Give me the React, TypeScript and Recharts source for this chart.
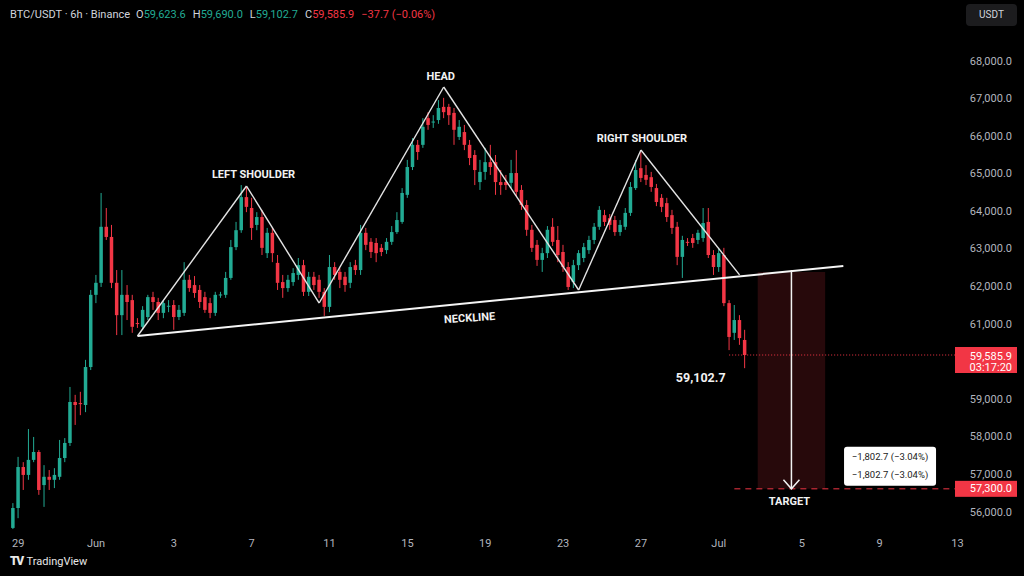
import React from 'react';
import { ComposedChart, Bar, XAxis, YAxis, ReferenceLine, ReferenceArea, ReferenceDot } from 'recharts';

const GREEN = '#22ab94';
const RED = '#f23645';
const AXIS_TEXT = '#b2b5be';
const FONT = "Roboto, 'Liberation Sans', sans-serif";

// 6h candles, values (price-scale positions)
const opens = [
  55580, 56110, 57200, 56990, 57390, 57600, 56720, 56940, 56860, 56940,
  57440, 57840, 58930, 58900, 58850, 59860, 61780, 62100, 63590, 63320,
  62100, 61240, 61780, 61640, 61030, 60930, 61190, 61720, 61590, 61300,
  61480, 61510, 61190, 61300, 62180, 62040, 61910, 61720, 61560, 61300,
  61780, 61780, 62230, 63050, 63500, 64380, 64090, 63640, 63850, 62890,
  63430, 62630, 62120, 61960, 62120, 62310, 62570, 61860, 62260, 62180,
  61860, 61460, 62520, 62390, 62260, 62100, 62570, 62440, 63430, 63190,
  63160, 63030, 62970, 63190, 63450, 63720, 64440, 65180, 65770, 65770,
  66480, 66380, 66430, 66780, 66780, 66620, 65980, 66110, 65770, 65500,
  64780, 65050, 65310, 65310, 64780, 64780, 64760, 65020, 64570, 64170,
  63510, 63110, 62710, 62890, 63590, 63240, 62920, 62520, 62120, 62570,
  62760, 62970, 63240, 63590, 63900, 63820, 63770, 63450, 63590, 63960,
  64620, 65150, 64970, 64910, 64620, 64360, 64220, 63900, 63590, 62790,
  63190, 63290, 63240, 63290, 63720, 62840, 62520, 62840, 61560, 60770,
  61110, 60580,
];
const highs = [
  56240, 57470, 57330, 58210, 58000, 57650, 57250, 57120, 57170, 57920,
  57970, 59330, 59120, 59200, 60050, 61910, 62310, 64490, 64090, 63640,
  62440, 62440, 62040, 61780, 61160, 61480, 61780, 61860, 61700, 61640,
  61640, 61640, 61510, 62650, 62310, 62280, 62040, 61860, 61700, 61860,
  61860, 62390, 63240, 63720, 64700, 64650, 64360, 63980, 64040, 63560,
  63560, 62840, 62310, 62310, 62490, 62760, 62710, 62390, 62390, 62310,
  61960, 62840, 62650, 62490, 62390, 62650, 62710, 63640, 63560, 63290,
  63290, 63130, 63290, 63610, 63980, 64620, 65370, 65950, 65900, 66480,
  66640, 66560, 66960, 67020, 66860, 66750, 66430, 66300, 65900, 65630,
  65370, 65690, 65770, 65500, 65100, 64970, 65370, 65630, 64700, 64300,
  63640, 63240, 63030, 63610, 63820, 63610, 63110, 62650, 62710, 62970,
  63160, 63350, 63690, 64140, 64040, 63930, 63880, 63770, 64090, 64780,
  65370, 65580, 65230, 65050, 64730, 64460, 64360, 64040, 63720, 63350,
  63290, 63400, 63510, 64090, 64090, 62970, 63030, 63030, 61640, 61510,
  61240, 60850,
];
const lows = [
  55550, 55840, 56590, 56860, 57330, 56460, 56140, 56590, 56640, 56860,
  57330, 57760, 58320, 58580, 58660, 59780, 61560, 61990, 63240, 61960,
  60710, 60710, 61110, 60770, 60900, 60850, 61110, 61380, 61110, 61160,
  61320, 60850, 61110, 61220, 61860, 61700, 61430, 61300, 61160, 61220,
  61700, 61700, 62180, 62970, 63430, 63980, 63240, 63500, 62840, 62760,
  62650, 61910, 61700, 61860, 62020, 62180, 61750, 61750, 61910, 61700,
  61220, 61320, 62180, 61960, 61860, 61960, 62310, 62310, 62970, 62760,
  62650, 62810, 62870, 63110, 63400, 63670, 64360, 65100, 65370, 65690,
  66170, 66220, 66330, 66480, 66300, 65770, 65900, 65630, 65230, 64700,
  64570, 64840, 64970, 64440, 64440, 64570, 64620, 64410, 64040, 63350,
  62920, 62550, 62390, 62760, 63080, 62650, 62390, 61910, 61960, 62440,
  62650, 62870, 63130, 63510, 63610, 63510, 63350, 63350, 63510, 63880,
  64570, 64780, 64700, 64520, 64140, 63980, 63720, 63400, 62570, 62230,
  63080, 63030, 63130, 63190, 62760, 62310, 62390, 61480, 60310, 60580,
  60450, 59830,
];
const closes = [
  56110, 57200, 56990, 57390, 57600, 56590, 56940, 56860, 56990, 57440,
  57840, 58930, 58850, 58880, 59860, 61780, 62100, 63590, 63320, 62100,
  61240, 61780, 61590, 60930, 61010, 61380, 61720, 61590, 61300, 61560,
  61490, 61190, 61380, 62180, 61960, 61830, 61590, 61380, 61300, 61780,
  61790, 62230, 63050, 63500, 64380, 64120, 63560, 63850, 63030, 63430,
  62890, 62100, 61960, 62180, 62360, 62570, 61860, 62260, 62040, 61860,
  61460, 62520, 62310, 62180, 62040, 62520, 62440, 63430, 63110, 62920,
  62890, 62920, 63190, 63450, 63770, 64490, 65180, 65770, 65580, 66250,
  66300, 66390, 66750, 66640, 66560, 66170, 66250, 65770, 65420, 65100,
  65050, 65310, 65180, 64780, 64700, 64700, 65020, 64520, 64170, 63510,
  63030, 62710, 62890, 63510, 63190, 62840, 62520, 61990, 62570, 62890,
  63050, 63240, 63590, 64040, 63720, 63640, 63450, 63640, 63960, 64650,
  65100, 64890, 64840, 64650, 64250, 64120, 63850, 63560, 62790, 63240,
  63180, 63160, 63430, 63690, 62840, 62520, 62890, 61560, 60660, 61110,
  60630, 60180,
];

// time axis: slots of the time scale, first candle sits in slot LEAD
const LEAD = 2;
const SLOTS = 195;
const tickSlots = [3, 18, 33, 48, 63, 78, 93, 108, 123, 138, 154, 169, 184];
const tickLabels = ['29', 'Jun', '3', '7', '11', '15', '19', '23', '27', 'Jul', '5', '9', '13'];

// price axis
const priceDomain = [55525, 68825];
const priceTicks = [56000, 57000, 58000, 59000, 61000, 62000, 63000, 64000, 65000, 66000, 67000, 68000];

// head & shoulders drawing
const patternSlots = [26, 47, 61, 85, 111, 123, 142];
const patternPrices = [60685, 64675, 61563, 67309, 61909, 65633, 62310];
const necklineSlots = [26, 162];
const necklinePrices = [60685, 62547];
const patternLabels = ['LEFT SHOULDER', 'HEAD', 'RIGHT SHOULDER'];
const patternLabelVertex = [1, 3, 5];

// projection / target
const targetSlots = [146, 158];
const targetTop = 62390;
const targetLevel = 56620;
const arrowSlot = 152;
const arrowTop = 62440;
const targetBadge = '57,300.0';
const measureText = '\u22121,802.7 (\u22123.04%)';

// last price
const lastPriceLevel = 60180;
const lastPriceText = '59,585.9';
const countdownText = '03:17:20';
const lowText = '59,102.7';

const fmtPrice = (v: number) =>
  v.toLocaleString('en-US', { minimumFractionDigits: 1, maximumFractionDigits: 1 });

const rows = Array.from({ length: SLOTS }, (_, idx) => {
  const i = idx - LEAD;
  const has = i >= 0 && i < closes.length;
  return {
    idx,
    o: has ? opens[i] : null,
    h: has ? highs[i] : null,
    l: has ? lows[i] : null,
    c: has ? closes[i] : null,
    range: has ? [lows[i], highs[i]] : null,
  };
});

const Candle = (p: any) => {
  const { x, y, width, height, payload } = p;
  if (!payload || payload.h == null || x == null || y == null) return null;
  const { o, h, l, c } = payload;
  const top = Math.min(y, y + height);
  const bot = Math.max(y, y + height);
  const k = (bot - top) / (h - l || 1);
  const yOf = (v: number) => top + (h - v) * k;
  const color = c >= o ? GREEN : RED;
  const cx = x + width / 2;
  const bw = Math.max(1, width * 0.7);
  const bTop = yOf(Math.max(o, c));
  const bBot = yOf(Math.min(o, c));
  return (
    <g>
      <line x1={cx} x2={cx} y1={top} y2={bot} stroke={color} strokeWidth={1} />
      <rect x={cx - bw / 2} y={bTop} width={bw} height={Math.max(1, bBot - bTop)} fill={color} />
    </g>
  );
};

const XTick = (p: any) => {
  const { x, y, payload } = p;
  const k = tickSlots.indexOf(payload.value);
  return (
    <text x={x} y={y + 11} textAnchor="middle" dominantBaseline="central" fill={AXIS_TEXT} fontSize={11} fontFamily={FONT}>
      {k >= 0 ? tickLabels[k] : ''}
    </text>
  );
};

const YTick = (p: any) => {
  const { y, payload } = p;
  return (
    <text x={1012} y={y} textAnchor="end" dominantBaseline="central" fill={AXIS_TEXT} fontSize={11} fontFamily={FONT}>
      {fmtPrice(payload.value)}
    </text>
  );
};

const textShape = (label: string, dx: number, dy: number, size: number) => (p: any) => (
  <text x={p.cx + dx} y={p.cy + dy} textAnchor="middle" dominantBaseline="central" fill="#f2f2f2" fontSize={size} fontWeight={700} fontFamily={FONT}>
    {label}
  </text>
);

const necklineLabelShape = (p: any) => (
  <text x={p.cx} y={p.cy + 15} textAnchor="middle" dominantBaseline="central" fill="#f2f2f2" fontSize={11} fontWeight={700} fontFamily={FONT} transform={`rotate(-4 ${p.cx} ${p.cy + 15})`}>
    NECKLINE
  </text>
);

const arrowHead = (p: any) => (
  <path d={`M${p.cx - 8},${p.cy - 9} L${p.cx},${p.cy} L${p.cx + 8},${p.cy - 9}`} stroke="#f2f2f2" strokeWidth={1.5} fill="none" />
);

const lastBadge = (p: any) => (
  <g>
    <rect x={955} y={p.cy - 8} width={62} height={26} fill={RED} />
    <text x={1012} y={p.cy + 1} textAnchor="end" dominantBaseline="central" fill="#fff" fontSize={11} fontFamily={FONT}>{lastPriceText}</text>
    <text x={1012} y={p.cy + 12} textAnchor="end" dominantBaseline="central" fill="#fff" fontSize={11} fontFamily={FONT}>{countdownText}</text>
  </g>
);

const targetBadgeShape = (p: any) => (
  <g>
    <rect x={955} y={p.cy - 8} width={62} height={16} fill={RED} />
    <text x={1012} y={p.cy} textAnchor="end" dominantBaseline="central" fill="#fff" fontSize={11} fontFamily={FONT}>{targetBadge}</text>
  </g>
);

const measureBox = (p: any) => (
  <g>
    <rect x={p.cx - 46} y={p.cy - 42} width={92} height={39} rx={3} fill="#ffffff" />
    <text x={p.cx} y={p.cy - 32} textAnchor="middle" dominantBaseline="central" fill="#222" fontSize={9.5} fontFamily={FONT}>{measureText}</text>
    <text x={p.cx} y={p.cy - 14} textAnchor="middle" dominantBaseline="central" fill="#222" fontSize={9.5} fontFamily={FONT}>{measureText}</text>
  </g>
);

const lastSlot = LEAD + closes.length - 1;

export default function App() {
  const patternSegments = patternSlots.slice(1).map((s, k) => [
    { x: patternSlots[k], y: patternPrices[k] },
    { x: s, y: patternPrices[k + 1] },
  ]);
  const neckMid = 90;
  const neckMidPrice =
    necklinePrices[0] +
    ((necklinePrices[1] - necklinePrices[0]) * (neckMid - necklineSlots[0])) / (necklineSlots[1] - necklineSlots[0]);

  return (
    <div style={{ position: 'fixed', left: 0, top: 0, width: 1024, height: 576, background: '#000', overflow: 'hidden', fontFamily: FONT }}>
      <ComposedChart
        width={1024}
        height={576}
        data={rows}
        margin={{ top: 30, right: 0, bottom: 0, left: 0 }}
        barCategoryGap={0}
        barGap={0}
      >
        <XAxis
          dataKey="idx"
          type="category"
          ticks={tickSlots}
          interval={0}
          height={46}
          axisLine={false}
          tickLine={false}
          tickSize={0}
          tick={<XTick />}
        />
        <YAxis
          type="number"
          orientation="right"
          domain={priceDomain}
          allowDataOverflow
          ticks={priceTicks}
          interval={0}
          axisLine={false}
          tickLine={false}
          tickSize={0}
          width={12}
          tick={<YTick />}
        />
        <ReferenceArea
          x1={targetSlots[0]}
          x2={targetSlots[1]}
          y1={targetLevel}
          y2={targetTop}
          fill={RED}
          fillOpacity={0.16}
          stroke="none"
        />
        <Bar dataKey="range" shape={<Candle />} isAnimationActive={false} />
        <ReferenceLine
          segment={[{ x: lastSlot - 3, y: lastPriceLevel }, { x: SLOTS - 1, y: lastPriceLevel }]}
          stroke={RED}
          strokeWidth={1}
          strokeDasharray="1 2"
        />
        <ReferenceLine
          segment={[{ x: lastSlot - 2, y: targetLevel }, { x: SLOTS - 1, y: targetLevel }]}
          stroke={RED}
          strokeWidth={1}
          strokeDasharray="6 5"
        />
        <ReferenceLine
          segment={[{ x: necklineSlots[0], y: necklinePrices[0] }, { x: necklineSlots[1], y: necklinePrices[1] }]}
          stroke="#f5f5f5"
          strokeWidth={2}
        />
        {patternSegments.map((seg, k) => (
          <ReferenceLine key={`p${k}`} segment={seg} stroke="#e4e4e4" strokeWidth={1.4} />
        ))}
        <ReferenceLine
          segment={[{ x: arrowSlot, y: arrowTop }, { x: arrowSlot, y: targetLevel }]}
          stroke="#f2f2f2"
          strokeWidth={1.5}
        />
        <ReferenceDot x={arrowSlot} y={targetLevel} r={3} shape={arrowHead} />
        {patternLabels.map((lab, k) => {
          const v = patternLabelVertex[k];
          const dx = k === 0 ? 7 : k === 1 ? -3 : 1;
          const dy = k === 1 ? -10 : -12;
          return (
            <ReferenceDot key={lab} x={patternSlots[v]} y={patternPrices[v]} r={3} shape={textShape(lab, dx, dy, 11)} />
          );
        })}
        <ReferenceDot x={neckMid} y={neckMidPrice} r={3} shape={necklineLabelShape} />
        <ReferenceDot x={arrowSlot} y={targetLevel} r={3} shape={textShape('TARGET', -2, 13, 11)} />
        <ReferenceDot x={lastSlot} y={lows[lows.length - 1]} r={3} shape={textShape(lowText, -44, 9, 12.5)} />
        <ReferenceDot x={171} y={targetLevel} r={3} shape={measureBox} />
        <ReferenceDot x={SLOTS - 1} y={lastPriceLevel} r={3} shape={lastBadge} />
        <ReferenceDot x={SLOTS - 1} y={targetLevel} r={3} shape={targetBadgeShape} />
      </ComposedChart>

      <div style={{ position: 'absolute', left: 10, top: 8, fontSize: 11, color: '#d1d4dc', whiteSpace: 'nowrap' }}>
        <span>BTC/USDT · 6h · Binance</span>
        <span style={{ marginLeft: 6 }}>O</span><span style={{ color: GREEN }}>59,623.6</span>
        <span style={{ marginLeft: 7 }}>H</span><span style={{ color: GREEN }}>59,690.0</span>
        <span style={{ marginLeft: 7 }}>L</span><span style={{ color: GREEN }}>59,102.7</span>
        <span style={{ marginLeft: 7 }}>C</span><span style={{ color: RED }}>59,585.9</span>
        <span style={{ marginLeft: 7, color: RED }}>{'\u221237.7 (\u22120.06%)'}</span>
      </div>

      <div style={{ position: 'absolute', left: 966, top: 4, width: 51, height: 22, background: '#1c1c1e', borderRadius: 4, color: '#d1d4dc', fontSize: 10, lineHeight: '22px', textAlign: 'center' }}>
        USDT
      </div>

      <div style={{ position: 'absolute', left: 10, top: 553, height: 16, display: 'flex', alignItems: 'center', color: '#e8e8e8', fontSize: 11 }}>
        <span style={{ fontWeight: 900, fontSize: 12, letterSpacing: -1.5, marginRight: 4 }}>TV</span>
        <span>TradingView</span>
      </div>
    </div>
  );
}
